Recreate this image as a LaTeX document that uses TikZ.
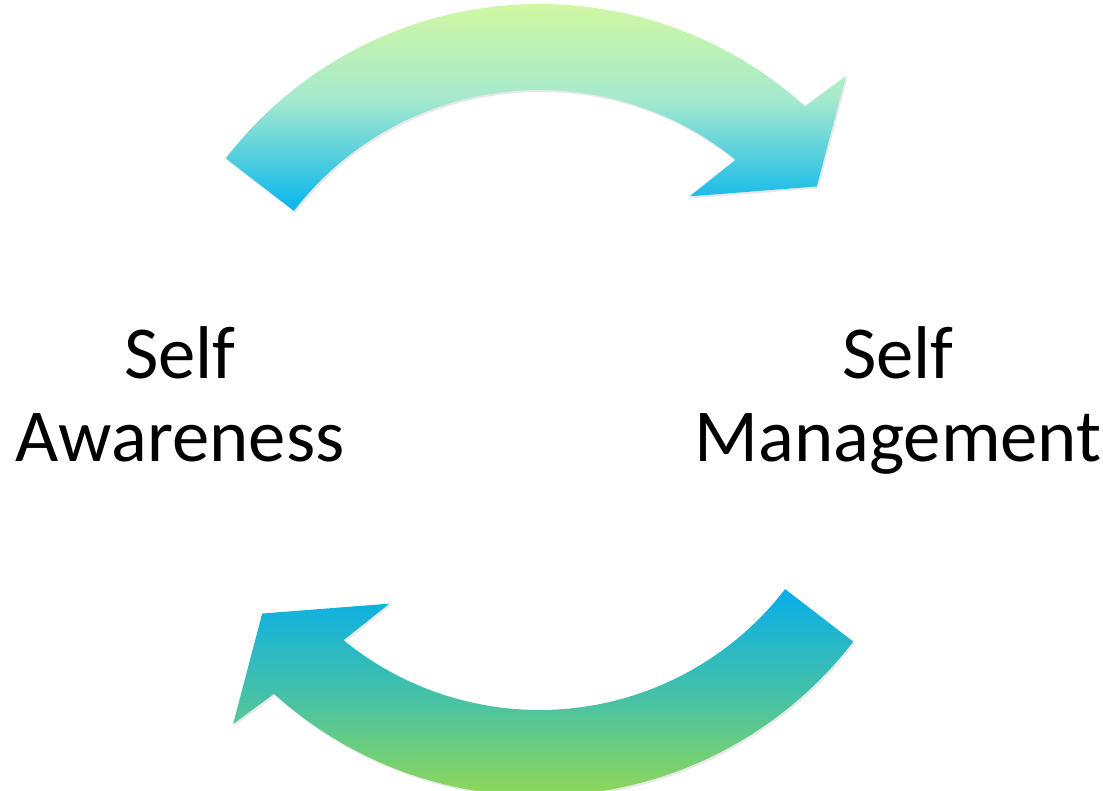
\documentclass[tikz,border=0pt]{standalone}
\usepackage{fontspec}
\setmainfont{Carlito}
\usetikzlibrary{shadows}
\definecolor{limeTop}{HTML}{D7F99C}
\definecolor{aquaMid}{HTML}{A5E9CE}
\definecolor{skyBot}{HTML}{05B5EE}
\definecolor{skyTop}{HTML}{08AEEA}
\definecolor{tealMid}{HTML}{48C2A4}
\definecolor{grassBot}{HTML}{9BDB4C}
\begin{document}
\begin{tikzpicture}[x=1bp,y=1bp,
  loopband/.style={drop shadow={opacity=0.18, shadow xshift=1.5bp, shadow yshift=-2bp}},
  caption/.style={font=\fontsize{75}{84}\selectfont, align=center, anchor=base, inner sep=0pt}]
\useasboundingbox[fill=white] (0,0) rectangle (1103,791);
% both curved arrows share one centre; outer radius 396, inner radius 310
\begin{scope}[shift={(539.5,391)}]
  % upper arrow, pointing clockwise to the right
  \path[loopband, top color=limeTop, bottom color=skyBot, middle color=aquaMid]
    (142.4:396) arc[start angle=142.4, end angle=47.9, radius=396]
    -- (46.6:446) -- (37.6:350) -- (53.6:253) -- (50.8:310)
    arc[start angle=50.8, end angle=142.4, radius=310] -- cycle;
  % lower arrow, pointing clockwise to the left
  \path[loopband, top color=skyTop, bottom color=grassBot, middle color=tealMid]
    (322.4:396) arc[start angle=322.4, end angle=227.9, radius=396]
    -- (226.6:446) -- (217.6:350) -- (233.6:253) -- (230.8:310)
    arc[start angle=230.8, end angle=322.4, radius=310] -- cycle;
\end{scope}
% the base anchor sits on the baseline of the second line
\node[caption] (aware) at (180,329) {Self\\Awareness};
\node[caption] (manage) at (898,329) {Self\\Management};
\end{tikzpicture}
\end{document}
